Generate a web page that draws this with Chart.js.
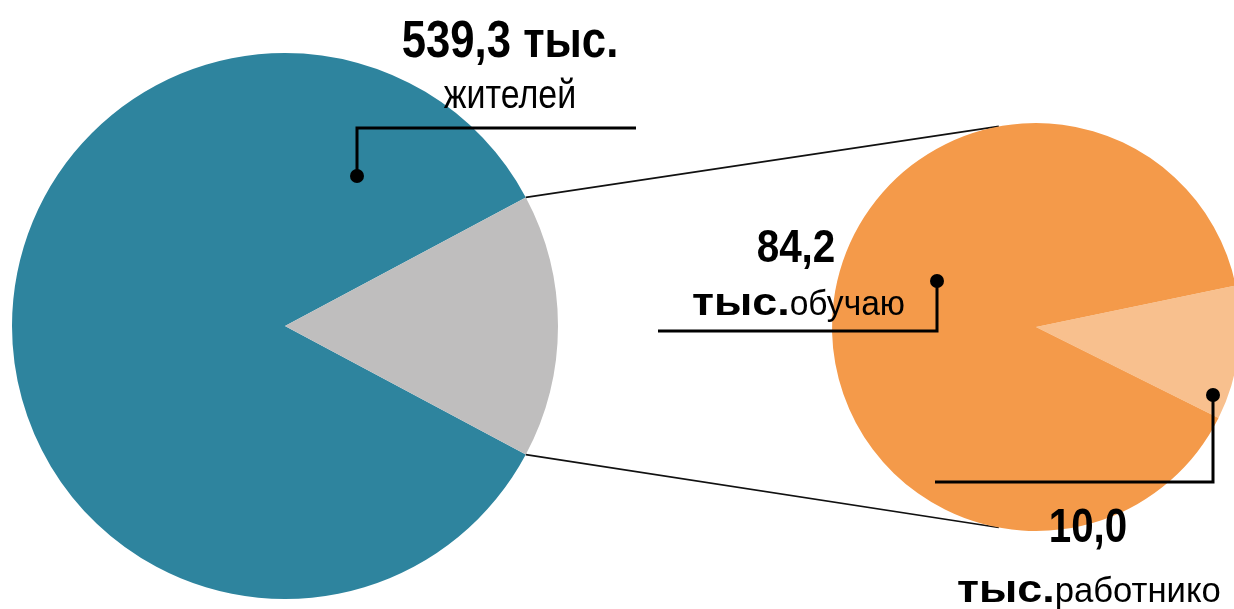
<!DOCTYPE html>
<html lang="ru">
<head>
<meta charset="utf-8">
<title>Жители, обучающиеся, работники</title>
<script src="https://cdn.jsdelivr.net/npm/chart.js@4.4.1/dist/chart.umd.min.js"></script>
<style>
  html, body { margin: 0; padding: 0; background: #fff; overflow: hidden; width: 1234px; height: 609px; }
  canvas { position: absolute; left: 0; top: 0; }
</style>
</head>
<body>
<canvas id="bigPie" width="1234" height="609"></canvas>
<canvas id="smallPie" width="1250" height="609"></canvas>
<script>
// данные
const bigLabels = ['прочие жители', 'обучающиеся'];
const bigValues = [455.1, 84.2];
const smallLabels = ['работники', 'обучающиеся'];
const smallValues = [10.0, 84.2];
const totalValues = [539.3, 84.2, 10.0];   // подписи: жители, обучающиеся, работники
const unitWords = ['жителей', 'обучаю', 'работнико'];

const FONT = '"Liberation Sans", Arial, sans-serif';

function fmt(v) {
  return v.toFixed(1).replace('.', ',');
}

// рисует строку из кусков с разной шириной шрифта
function drawParts(ctx, x, y, align, parts) {
  let widths = parts.map(p => {
    ctx.font = (p.bold ? 'bold ' : '') + p.size + 'px ' + FONT;
    return ctx.measureText(p.t).width * p.sx;
  });
  let total = widths.reduce((a, b) => a + b, 0);
  let cx = align === 'center' ? x - total / 2 : x;
  parts.forEach((p, i) => {
    ctx.save();
    ctx.font = (p.bold ? 'bold ' : '') + p.size + 'px ' + FONT;
    ctx.fillStyle = '#000';
    ctx.textBaseline = 'alphabetic';
    ctx.textAlign = 'left';
    ctx.translate(cx, y);
    ctx.scale(p.sx, 1);
    ctx.fillText(p.t, 0, 0);
    ctx.restore();
    cx += widths[i];
  });
}

// выноска: точка, вертикаль, горизонталь
function leader(ctx, dot, corner, end) {
  ctx.save();
  ctx.strokeStyle = '#000';
  ctx.lineWidth = 3;
  ctx.beginPath();
  ctx.moveTo(dot[0], dot[1]);
  ctx.lineTo(corner[0], corner[1]);
  ctx.lineTo(end[0], end[1]);
  ctx.stroke();
  ctx.fillStyle = '#000';
  ctx.beginPath();
  ctx.arc(dot[0], dot[1], 7, 0, Math.PI * 2);
  ctx.fill();
  ctx.restore();
}

const bigGreyDeg = bigValues[1] / (bigValues[0] + bigValues[1]) * 360;
const smallLightDeg = smallValues[0] / (smallValues[0] + smallValues[1]) * 360;

const bigLabelsPlugin = {
  id: 'bigLabels',
  afterDraw(chart) {
    const ctx = chart.ctx;
    const a = chart.getDatasetMeta(0).data[0];
    const cx = a.x, cy = a.y;
    leader(ctx, [cx + 72, cy - 150], [cx + 72, cy - 198], [cx + 351, cy - 198]);
    drawParts(ctx, 510, 57, 'center', [{ t: fmt(totalValues[0]) + ' тыс.', size: 52, bold: true, sx: 0.84 }]);
    drawParts(ctx, 510, 108, 'center', [{ t: unitWords[0], size: 40, bold: false, sx: 0.85 }]);
  }
};

const bigChart = new Chart(document.getElementById('bigPie'), {
  type: 'pie',
  data: {
    labels: bigLabels,
    datasets: [{
      data: bigValues,
      backgroundColor: ['#2E849E', '#BFBEBE'],
      borderWidth: 0
    }]
  },
  options: {
    responsive: false,
    animation: false,
    events: [],
    rotation: 90 + bigGreyDeg / 2,
    layout: { padding: { left: 12, top: 53, right: 676, bottom: 10 } },
    plugins: { legend: { display: false }, tooltip: { enabled: false } }
  },
  plugins: [bigLabelsPlugin]
});

const smallLabelsPlugin = {
  id: 'smallLabels',
  beforeDatasetsDraw(chart) {
    // соединительные линии от серого сектора к малому кругу
    const ctx = chart.ctx;
    const g = bigChart.getDatasetMeta(0).data[1];
    const s = chart.getDatasetMeta(0).data[0];
    const r = s.outerRadius;
    const tA = -100.5 * Math.PI / 180, bA = 100.5 * Math.PI / 180;
    ctx.save();
    ctx.strokeStyle = '#111';
    ctx.lineWidth = 1.6;
    ctx.beginPath();
    ctx.moveTo(g.x + g.outerRadius * Math.cos(g.startAngle), g.y + g.outerRadius * Math.sin(g.startAngle));
    ctx.lineTo(s.x + r * Math.cos(tA), s.y + r * Math.sin(tA));
    ctx.moveTo(g.x + g.outerRadius * Math.cos(g.endAngle), g.y + g.outerRadius * Math.sin(g.endAngle));
    ctx.lineTo(s.x + r * Math.cos(bA), s.y + r * Math.sin(bA));
    ctx.stroke();
    ctx.restore();
  },
  afterDraw(chart) {
    const ctx = chart.ctx;
    const a = chart.getDatasetMeta(0).data[0];
    const cx = a.x, cy = a.y;
    leader(ctx, [cx - 99, cy - 46], [cx - 99, cy + 4], [cx - 378, cy + 4]);
    leader(ctx, [cx + 177, cy + 68], [cx + 177, cy + 155], [cx - 101, cy + 155]);
    drawParts(ctx, 796, 262, 'center', [{ t: fmt(totalValues[1]), size: 47, bold: true, sx: 0.86 }]);
    drawParts(ctx, 692, 315, 'left', [
      { t: 'тыс.', size: 39, bold: true, sx: 1.15 },
      { t: unitWords[1], size: 35, bold: false, sx: 0.96 }
    ]);
    drawParts(ctx, 1088, 542, 'center', [{ t: fmt(totalValues[2]), size: 48, bold: true, sx: 0.84 }]);
    drawParts(ctx, 957, 602, 'left', [
      { t: 'тыс.', size: 39, bold: true, sx: 1.15 },
      { t: unitWords[2], size: 35, bold: false, sx: 0.99 }
    ]);
  }
};

new Chart(document.getElementById('smallPie'), {
  type: 'pie',
  data: {
    labels: smallLabels,
    datasets: [{
      data: smallValues,
      backgroundColor: ['#F8C08E', '#F49A4A'],
      borderWidth: 0
    }]
  },
  options: {
    responsive: false,
    animation: false,
    events: [],
    rotation: 90 + 7.4 - smallLightDeg / 2,
    layout: { padding: { left: 832, top: 123, right: 10, bottom: 78 } },
    plugins: { legend: { display: false }, tooltip: { enabled: false } }
  },
  plugins: [smallLabelsPlugin]
});
</script>
</body>
</html>
